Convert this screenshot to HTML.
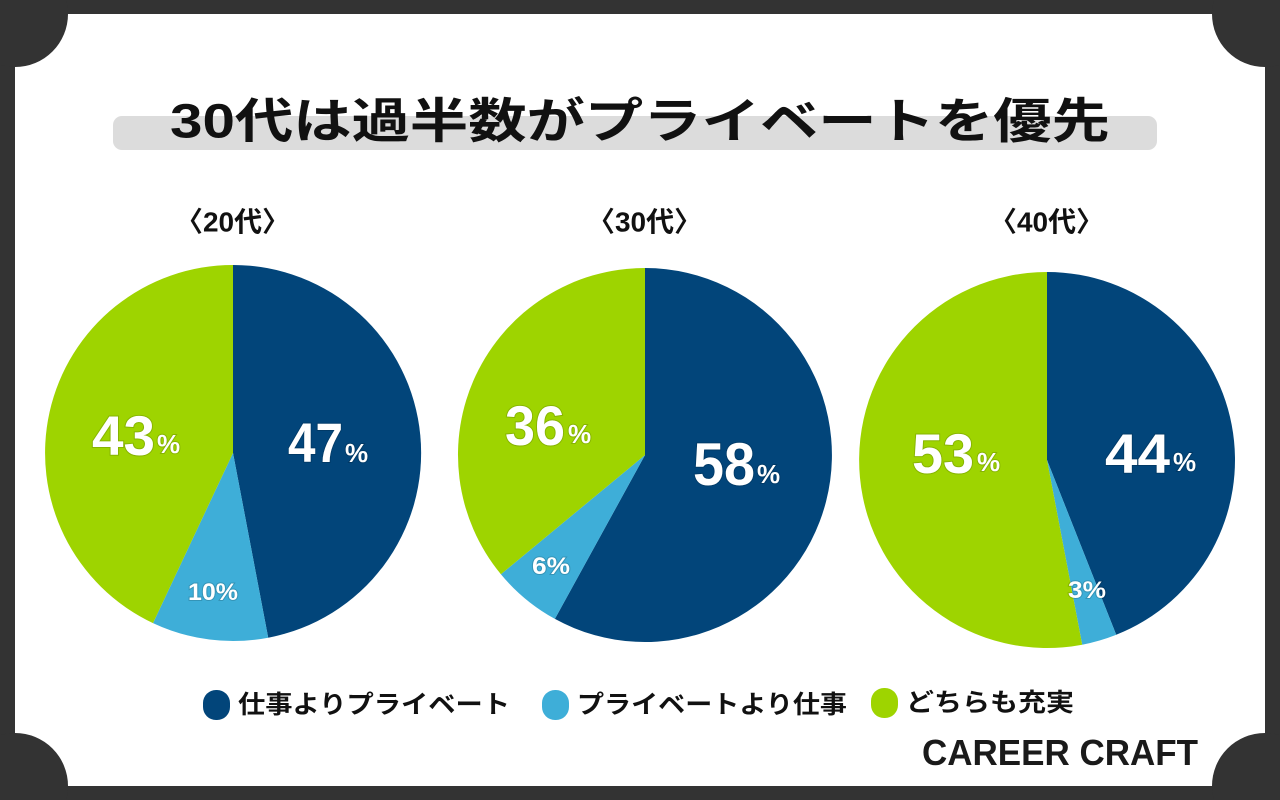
<!DOCTYPE html>
<html><head><meta charset="utf-8"><style>
html,body{margin:0;padding:0;background:#333;}
svg{display:block}
text{font-family:"Liberation Sans","Noto Sans CJK JP",sans-serif;font-weight:bold}
</style></head><body>
<svg width="1280" height="800" viewBox="0 0 1280 800">
<rect width="1280" height="800" fill="#333"/>
<rect x="15" y="14" width="1250" height="772" fill="#fff"/>
<circle cx="15" cy="14" r="53" fill="#333"/>
<circle cx="1265" cy="14" r="53" fill="#333"/>
<circle cx="15" cy="786" r="53" fill="#333"/>
<circle cx="1265" cy="786" r="53" fill="#333"/>
<rect x="113" y="116" width="1044" height="34" rx="9" fill="#dcdcdc"/>
<text x="170" y="125" font-size="48" fill="#111" dominant-baseline="middle" textLength="940" lengthAdjust="spacingAndGlyphs">30代は過半数がプライベートを優先</text>
<text x="175" y="224" font-size="28" fill="#111" dominant-baseline="middle" textLength="115" lengthAdjust="spacingAndGlyphs">〈20代〉</text>
<text x="587" y="224" font-size="28" fill="#111" dominant-baseline="middle" textLength="115" lengthAdjust="spacingAndGlyphs">〈30代〉</text>
<text x="989" y="224" font-size="28" fill="#111" dominant-baseline="middle" textLength="115" lengthAdjust="spacingAndGlyphs">〈40代〉</text>
<!-- pie 1 -->
<path d="M233 453 L233 265 A188 188 0 0 1 268.2 637.7 Z" fill="#02457a"/>
<path d="M233 453 L268.2 637.7 A188 188 0 0 1 153 623.1 Z" fill="#3eaed8"/>
<path d="M233 453 L153 623.1 A188 188 0 0 1 233 265 Z" fill="#9ed400"/>
<!-- pie 2 -->
<path d="M645 455 L645 268 A187 187 0 1 1 554.9 618.9 Z" fill="#02457a"/>
<path d="M645 455 L554.9 618.9 A187 187 0 0 1 500.9 574.2 Z" fill="#3eaed8"/>
<path d="M645 455 L500.9 574.2 A187 187 0 0 1 645 268 Z" fill="#9ed400"/>
<!-- pie 3 -->
<path d="M1047 460 L1047 272 A188 188 0 0 1 1116.2 634.8 Z" fill="#02457a"/>
<path d="M1047 460 L1116.2 634.8 A188 188 0 0 1 1082.2 644.7 Z" fill="#3eaed8"/>
<path d="M1047 460 L1082.2 644.7 A188 188 0 1 1 1047 272 Z" fill="#9ed400"/>
<g fill="#fff" style="paint-order:stroke" stroke="rgba(0,0,0,0.15)" stroke-width="2">
<text x="288" y="462" font-size="56" textLength="55" lengthAdjust="spacingAndGlyphs">47</text><text x="345" y="462" font-size="26">%</text>
<text x="92" y="455" font-size="56" textLength="63" lengthAdjust="spacingAndGlyphs">43</text><text x="157" y="453" font-size="26">%</text>
<text x="188" y="600" font-size="24" textLength="50" lengthAdjust="spacingAndGlyphs">10%</text>
<text x="693" y="485" font-size="60" textLength="62" lengthAdjust="spacingAndGlyphs">58</text><text x="757" y="483" font-size="26">%</text>
<text x="505" y="445" font-size="56" textLength="60" lengthAdjust="spacingAndGlyphs">36</text><text x="568" y="443" font-size="26">%</text>
<text x="532" y="574" font-size="24" textLength="38" lengthAdjust="spacingAndGlyphs">6%</text>
<text x="1105" y="473" font-size="56" textLength="65" lengthAdjust="spacingAndGlyphs">44</text><text x="1173" y="471" font-size="26">%</text>
<text x="912" y="473" font-size="56" textLength="62" lengthAdjust="spacingAndGlyphs">53</text><text x="977" y="471" font-size="26">%</text>
<text x="1068" y="598" font-size="24" textLength="38" lengthAdjust="spacingAndGlyphs">3%</text>
</g>
<rect x="203" y="690" width="27" height="30" rx="13" fill="#02457a"/>
<text x="238" y="713" font-size="25" fill="#111" textLength="272" lengthAdjust="spacingAndGlyphs">仕事よりプライベート</text>
<rect x="542" y="690" width="27" height="30" rx="13" fill="#3eaed8"/>
<text x="577" y="713" font-size="25" fill="#111" textLength="270" lengthAdjust="spacingAndGlyphs">プライベートより仕事</text>
<rect x="871" y="688" width="27" height="30" rx="13" fill="#9ed400"/>
<text x="906" y="711" font-size="25" fill="#111" textLength="168" lengthAdjust="spacingAndGlyphs">どちらも充実</text>
<text x="922" y="765" font-size="36" fill="#1a1a1a" textLength="276" lengthAdjust="spacingAndGlyphs">CAREER CRAFT</text>
</svg>
</body></html>
